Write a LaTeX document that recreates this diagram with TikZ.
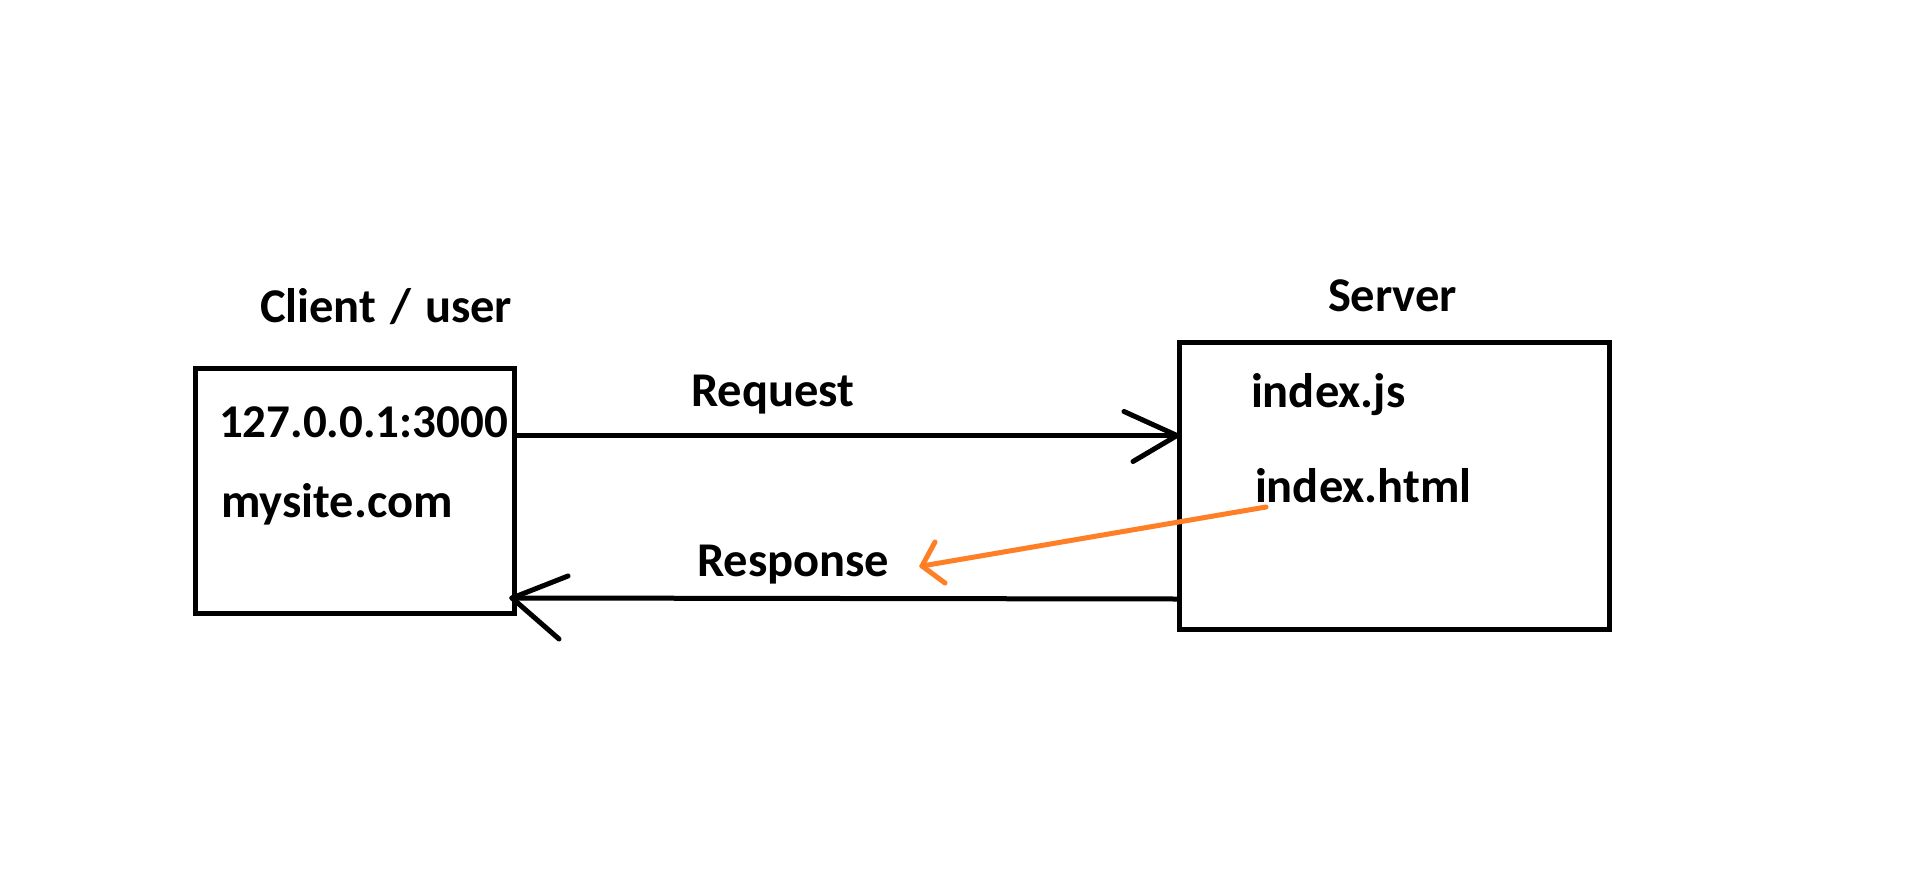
\documentclass[tikz,border=0pt]{standalone}
\usepackage{fontspec}
\usepackage{xcolor}
\usepackage{tikz}
\usetikzlibrary{arrows.meta, positioning, calc}
\newfontfamily\labelfont{Carlito}
\definecolor{paintorange}{HTML}{FF7F27}
\tikzset{
  hostbox/.style={draw=black, line width=5pt, rectangle, inner sep=0pt},
  lbl/.style={font={\labelfont\bfseries\fontsize{48.5}{58}\selectfont}, anchor=base west, inner sep=0pt, outer sep=0pt},
  wire/.style={black, line width=5pt, line cap=round, line join=round},
  fetch/.style={paintorange, line width=5pt, line cap=round, line join=round}
}

\begin{document}
\begin{tikzpicture}[x=1pt, y=-1pt]
    % page frame
    \fill[white] (0,0) rectangle (1909,883);
    \useasboundingbox (0,0) rectangle (1909,883);

    % the two machines
    \node[hostbox, minimum width=319pt, minimum height=245pt] (client) at (355,491) {};
    \node[hostbox, minimum width=430pt, minimum height=287pt] (server) at (1394.5,486) {};

    % titles
    \node[lbl] (clienttitle) at (260,322) {Client\kern3pt{} / \kern3pt user};
    \node[lbl] (servertitle) at (1328,311) {Server};

    % client side entries
    \node[lbl, font={\labelfont\bfseries\fontsize{47}{56}\selectfont}] (ip) at (219,437) {127.0.0.1:3000};
    \node[lbl] (site) at (221,517) {mysite.com};

    % server side files
    \node[lbl] (js) at (1251,407) {index.js};
    \node[lbl] (html) at (1255,502) {index.html};

    % request
    \node[lbl] (request) at (691,406) {Request};
    \draw[wire] ([yshift=55.5pt]client.east) -- ([yshift=50.5pt]server.west);
    \draw[wire] ([yshift=50.5pt]server.west) -- ++(-53,-24);
    \draw[wire] ([yshift=50.5pt]server.west) -- ++(-44,26);

    % response
    \node[lbl] (response) at (697,576) {Response};
    \draw[wire] ([yshift=-113pt]server.west) -- ([xshift=-5pt,yshift=-107pt]client.east);
    \draw[wire] ([xshift=-5pt,yshift=-107pt]client.east) -- ++(56,-22);
    \draw[wire] ([xshift=-5pt,yshift=-107pt]client.east) -- ++(47,41);

    % page handed back
    \coordinate (back) at (922,566);
    \draw[fetch] ([xshift=11pt,yshift=-5pt]html.base west) -- (back);
    \draw[fetch] (back) -- ++(13,-24);
    \draw[fetch] (back) -- ++(23,17);
  \end{tikzpicture}
\end{document}
